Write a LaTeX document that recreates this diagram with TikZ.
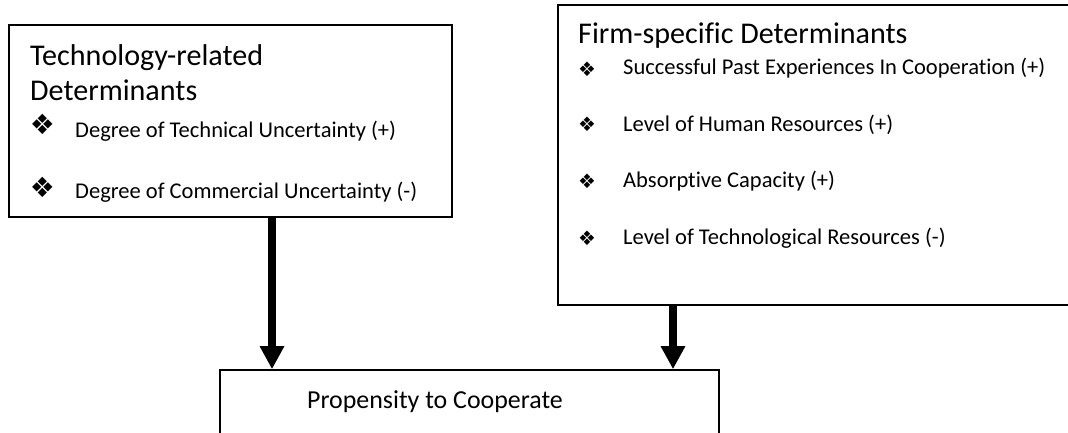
\documentclass[tikz,border=0pt]{standalone}
\usepackage{fontspec}
\setmainfont[Ligatures=NoCommon]{Carlito}
\newfontfamily\symfont{DejaVu Sans}
\usetikzlibrary{arrows.meta}
\tikzset{
  box/.style={draw=black, line width=1.6bp, rectangle, inner sep=0pt},
  title/.style={anchor=base west, inner sep=0pt, font=\fontsize{30.2}{36}\selectfont},
  item/.style={anchor=base west, inner sep=0pt, font=\fontsize{22.6}{27}\selectfont},
  bigbul/.style={anchor=center, inner sep=0pt, font=\symfont\fontsize{28}{30}\selectfont},
  smallbul/.style={anchor=center, inner sep=0pt, font=\symfont\fontsize{20}{24}\selectfont},
  arr/.style={line width=7.5bp, -{Triangle[width=23bp,length=23bp]}}
}
\begin{document}
\begin{tikzpicture}[x=1bp,y=-1bp]
\useasboundingbox (0,0) rectangle (1068,432);
\clip (0,0) rectangle (1068,432);
% boxes
\node[box, minimum width=443bp, minimum height=192bp] (tech) at (230.5,121) {};
\node[box, minimum width=522bp, minimum height=300bp] (firm) at (819,155) {};
\node[box, minimum width=499bp, minimum height=90bp] (ptc) at (469.5,415) {};
% left box text
\node[title] (t1) at (30,65) {Technology-related};
\node[title] (t2) at (30,100) {Determinants};
\node[bigbul] (lb1) at (42.5,124) {❖};
\node[item] (l1) at (75,137) {Degree of Technical Uncertainty (+)};
\node[bigbul] (lb2) at (42.5,187) {❖};
\node[item] (l2) at (75,198) {Degree of Commercial Uncertainty (-)};
% right box text
\node[title] (f1) at (578,43) {Firm-specific Determinants};
\node[smallbul] (rb1) at (587,69) {❖};
\node[item] (r1) at (623,74) {Successful Past Experiences In Cooperation (+)};
\node[smallbul] (rb2) at (587,124) {❖};
\node[item] (r2) at (623,131) {Level of Human Resources (+)};
\node[smallbul] (rb3) at (587,181) {❖};
\node[item] (r3) at (623,187) {Absorptive Capacity (+)};
\node[smallbul] (rb4) at (587,238) {❖};
\node[item] (r4) at (623,244) {Level of Technological Resources (-)};
% bottom text
\node[anchor=base west, inner sep=0pt, font=\fontsize{26}{30}\selectfont] (p1) at (307,408) {Propensity to Cooperate};
% arrows
\coordinate (a1) at (272,0);
\coordinate (a2) at (673,0);
\draw[arr] (tech.south -| a1) -- (ptc.north -| a1);
\draw[arr] (firm.south -| a2) -- (ptc.north -| a2);
\end{tikzpicture}
\end{document}
